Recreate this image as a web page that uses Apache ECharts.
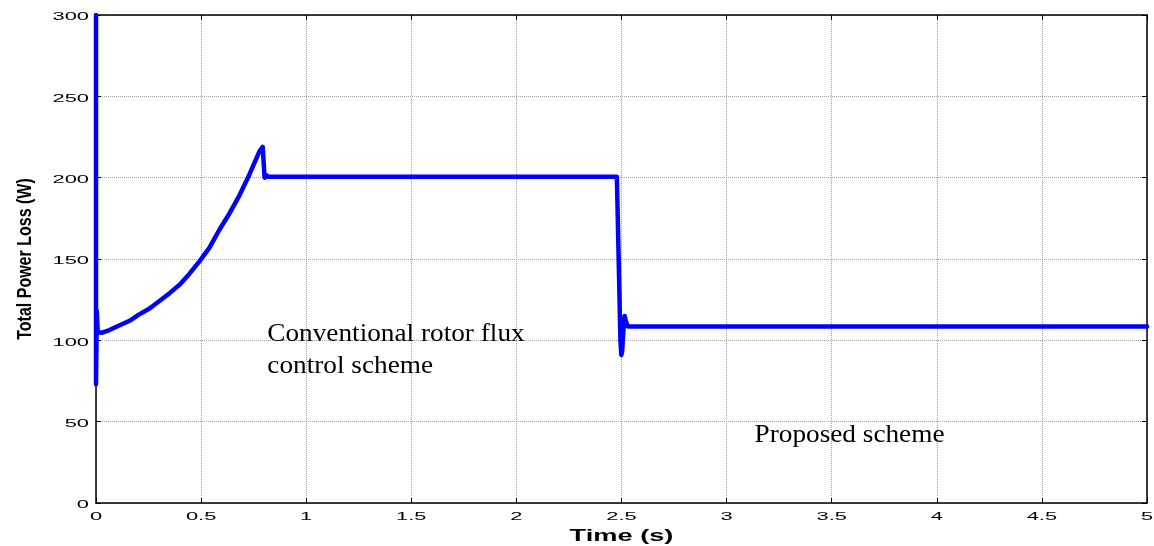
<!DOCTYPE html>
<html>
<head>
<meta charset="utf-8">
<script src="https://cdn.jsdelivr.net/npm/echarts@6/dist/echarts.min.js"></script>
<style>
  html, body { margin: 0; padding: 0; background: #fff; }
  #chart { width: 1154px; height: 546px; }
</style>
</head>
<body>
<div id="chart"></div>
<script>
// Simulated total power loss of the drive over time (s, W)
const timeValues = [0, 0, 0.002, 0.004, 0.008, 0.03, 0.064, 0.1, 0.16, 0.2, 0.255, 0.3, 0.35, 0.4, 0.445, 0.492, 0.54, 0.587, 0.635, 0.682, 0.73, 0.777, 0.793, 0.8, 0.802, 0.81, 0.82, 2.478, 2.495, 2.499, 2.503, 2.51, 2.515, 2.52, 2.53, 5];
const lossValues = [300, 73, 73, 118, 105, 104.7, 106.3, 108.5, 112, 115.5, 119.6, 124, 129, 134.5, 141, 148.5, 157, 168, 178, 189, 202, 216, 219, 219, 200, 201.5, 200.5, 200.5, 100, 91, 93, 108, 115, 112, 108.5, 108.5];

// Axis ticks
const xTickValues = [0, 0.5, 1, 1.5, 2, 2.5, 3, 3.5, 4, 4.5, 5];
const yTickValues = [0, 50, 100, 150, 200, 250, 300];
const xTitle = 'Time (s)';
const yTitle = 'Total Power Loss (W)';

// In-plot notes: left end and box bottom in data units
const annotations = [
  { t: 0.815, v: 95.8, text: 'Conventional rotor flux' },
  { t: 0.815, v: 76.1, text: 'control scheme' },
  { t: 3.133, v: 33.7, text: 'Proposed scheme' }
];

const seriesData = timeValues.map((t, i) => [t, lossValues[i]]);

const chart = echarts.init(document.getElementById('chart'));

const xRange = { min: xTickValues[0], max: xTickValues[xTickValues.length - 1], interval: 0.5 };
const yRange = { min: yTickValues[0], max: yTickValues[yTickValues.length - 1], interval: 50 };

const gridLine = { show: true, lineStyle: { color: '#a0a0a0', type: [1, 1], width: 1 } };
const frameLine = { show: true, onZero: false, lineStyle: { color: '#000', width: 1.5 } };
const tickIn = { show: true, inside: true, length: 5, lineStyle: { color: '#000', width: 1 } };

chart.setOption({
  animation: false,
  backgroundColor: '#fff',
  grid: { left: 96, right: 7, top: 15, bottom: 43, containLabel: false },
  xAxis: [
    { type: 'value', position: 'bottom', ...xRange, axisLine: frameLine, axisTick: tickIn, splitLine: gridLine, axisLabel: { show: false } },
    { type: 'value', position: 'top', ...xRange, axisLine: frameLine, axisTick: tickIn, splitLine: { show: false }, axisLabel: { show: false } }
  ],
  yAxis: [
    { type: 'value', position: 'left', ...yRange, axisLine: frameLine, axisTick: tickIn, splitLine: gridLine, axisLabel: { show: false } },
    { type: 'value', position: 'right', ...yRange, axisLine: frameLine, axisTick: tickIn, splitLine: { show: false }, axisLabel: { show: false } }
  ],
  series: [
    {
      type: 'line',
      xAxisIndex: 0, yAxisIndex: 0,
      data: seriesData,
      showSymbol: false,
      lineStyle: { color: '#0000ff', width: 4.5, join: 'round', cap: 'round' },
      z: 3
    }
  ]
});

// Labels use the wide, stretched look of the exported figure
const sansFont = (size, bold) => (bold ? 'bold ' : '') + size + 'px "Liberation Sans", Arial, sans-serif';
const toPx = (t, v) => chart.convertToPixel({ xAxisIndex: 0, yAxisIndex: 0 }, [t, v]);

const graphics = [];
const tickStyle = { fill: '#000', font: sansFont(11.5, false) };

xTickValues.forEach(t => {
  const p = toPx(t, yRange.min);
  graphics.push({
    type: 'text', x: p[0], y: p[1] + 14, scaleX: 1.9, silent: true,
    style: { ...tickStyle, text: String(t), align: 'center', verticalAlign: 'middle' }
  });
});

yTickValues.forEach(v => {
  const p = toPx(xRange.min, v);
  graphics.push({
    type: 'text', x: p[0] - 7, y: p[1] + 2, scaleX: 1.9, silent: true,
    style: { ...tickStyle, text: String(v), align: 'right', verticalAlign: 'middle' }
  });
});

// Axis titles
const xMid = toPx((xRange.min + xRange.max) / 2, yRange.min);
graphics.push({
  type: 'text', x: xMid[0], y: 536, scaleX: 1.6, silent: true,
  style: { fill: '#000', font: sansFont(17, true), text: xTitle, align: 'center', verticalAlign: 'middle' }
});
const yMid = toPx(xRange.min, (yRange.min + yRange.max) / 2);
graphics.push({
  type: 'text', x: 25, y: yMid[1], rotation: Math.PI / 2, scaleY: 1.25, silent: true,
  style: { fill: '#000', font: sansFont(16, true), text: yTitle, align: 'center', verticalAlign: 'middle' }
});

annotations.forEach(a => {
  const p = toPx(a.t, a.v);
  graphics.push({
    type: 'text', x: p[0], y: p[1], scaleX: 1.09, z: 10, silent: true,
    style: {
      text: a.text, fill: '#000',
      font: '25px "Liberation Serif", "Times New Roman", serif',
      align: 'left', verticalAlign: 'bottom'
    }
  });
});

chart.setOption({ graphic: graphics });
</script>
</body>
</html>
